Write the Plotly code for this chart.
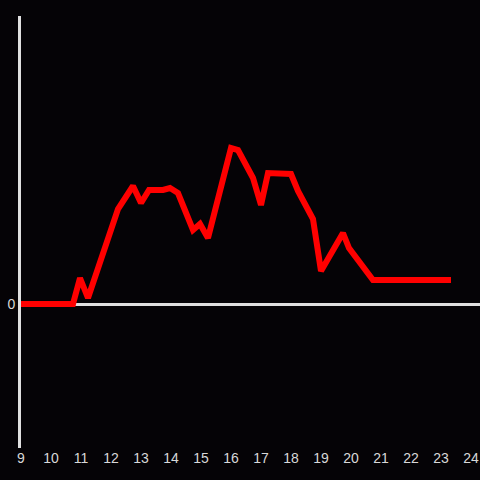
import plotly.graph_objects as go

hours = [9.0, 10.733, 10.967, 11.233, 12.233, 12.733, 13.0, 13.267, 13.733, 13.967,
         14.233, 14.733, 14.967, 15.233, 16.0, 16.233, 16.733, 17.0, 17.233, 18.0,
         18.233, 18.733, 19.0, 19.733, 19.933, 20.733, 23.333]
values = [0, 0, 26, 6, 95, 118, 101, 114, 114, 116,
          111, 74, 80, 66, 156, 154, 126, 99, 131, 130,
          113, 85, 33, 71, 56, 24, 24]
x_ticks = list(range(9, 25))

fig = go.Figure()
fig.add_trace(go.Scatter(x=hours, y=values, mode="lines",
                         line=dict(color="#ff0000", width=6)))

fig.update_layout(
    width=480, height=480,
    margin=dict(l=21, r=0, t=16, b=32),
    paper_bgcolor="#050306", plot_bgcolor="#050306",
    showlegend=False,
    font=dict(family="Liberation Sans, Arial, sans-serif", size=14, color="#d8d8d8"),
    xaxis=dict(range=[9, 24.3], tickvals=x_ticks, ticktext=[str(t) for t in x_ticks],
               showgrid=False, zeroline=False, showline=False, ticks="", ticklen=0),
    yaxis=dict(range=[-144, 288], tickvals=[0], ticktext=["0"],
               showgrid=False, zeroline=True, zerolinecolor="#e0e0e0", zerolinewidth=3,
               showline=True, linecolor="#e0e0e0", linewidth=3, ticks=""),
)

fig.write_html("out.html", config={"displayModeBar": False},
               post_script="document.body.style.margin='0';document.body.style.background='#050306';")
